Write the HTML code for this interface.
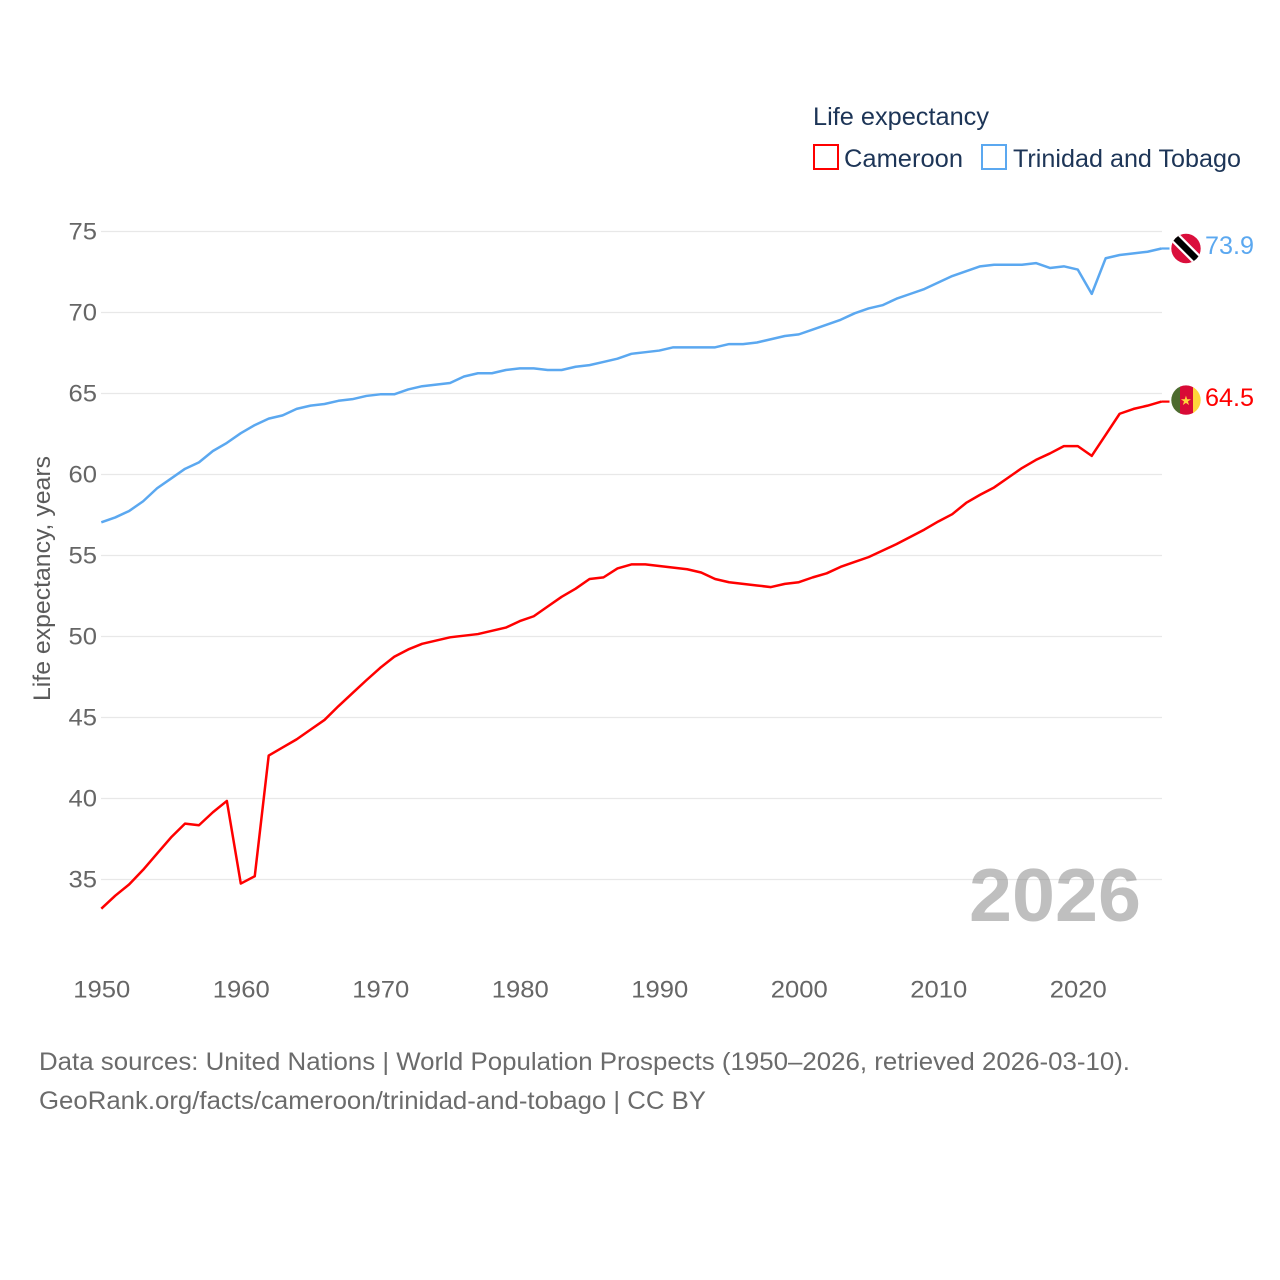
<!DOCTYPE html>
<html>
<head>
<meta charset="utf-8">
<title>Life expectancy</title>
<style>
html,body{margin:0;padding:0;background:#fff}
svg{display:block}
text{font-family:"Liberation Sans",sans-serif}
</style>
</head>
<body>
<svg id="chart" xmlns="http://www.w3.org/2000/svg" width="1280" height="1280" viewBox="0 0 1280 1280">
  <rect width="1280" height="1280" fill="#fff"/>
  <g id="grid"></g>
  <g id="yticks"></g>
  <g id="xticks"></g>
  <text transform="translate(50,701) rotate(-90)" font-size="24" fill="#5b5b5b" textLength="245" lengthAdjust="spacingAndGlyphs">Life expectancy, years</text>
  <text x="813" y="125" font-size="25" fill="#1d3557" textLength="176" lengthAdjust="spacingAndGlyphs">Life expectancy</text>
  <rect x="814" y="145" width="24" height="24" fill="none" stroke="#ff0000" stroke-width="2"/>
  <text x="844" y="167" font-size="25" fill="#1d3557" textLength="119" lengthAdjust="spacingAndGlyphs">Cameroon</text>
  <rect x="982" y="145" width="24" height="24" fill="none" stroke="#5ba8f0" stroke-width="2"/>
  <text x="1013" y="167" font-size="25" fill="#1d3557" textLength="228" lengthAdjust="spacingAndGlyphs">Trinidad and Tobago</text>
  <text x="969" y="921" font-size="75" font-weight="700" fill="#808080" fill-opacity="0.5" textLength="172" lengthAdjust="spacingAndGlyphs">2026</text>
  <g id="series"></g>
  <g id="endflags"></g>
  <text x="39" y="1070" font-size="25" fill="#6b6b6b" textLength="1091" lengthAdjust="spacingAndGlyphs">Data sources: United Nations | World Population Prospects (1950–2026, retrieved 2026-03-10).</text>
  <text x="39" y="1109" font-size="25" fill="#6b6b6b" textLength="667" lengthAdjust="spacingAndGlyphs">GeoRank.org/facts/cameroon/trinidad-and-tobago | CC BY</text>
</svg>
<script>
var startYear = 1950;
var yTickValues = [35, 40, 45, 50, 55, 60, 65, 70, 75];
var xTickValues = [1950, 1960, 1970, 1980, 1990, 2000, 2010, 2020];
var cameroonValues = [33.2,34.0,34.7,35.6,36.6,37.6,38.45,38.35,39.15,39.85,
  34.75,35.2,42.65,43.15,43.65,44.25,44.85,45.7,46.5,47.3,
  48.07,48.75,49.2,49.55,49.75,49.95,50.05,50.15,50.35,50.55,
  50.95,51.25,51.85,52.45,52.95,53.55,53.65,54.2,54.45,54.45,
  54.35,54.25,54.15,53.95,53.55,53.35,53.25,53.15,53.05,53.25,
  53.35,53.65,53.9,54.3,54.6,54.9,55.3,55.7,56.15,56.6,
  57.1,57.55,58.25,58.75,59.2,59.8,60.4,60.9,61.3,61.75,
  61.75,61.15,62.45,63.75,64.05,64.25,64.5];
var trinidadValues = [57.05,57.35,57.75,58.35,59.15,59.75,60.35,60.75,61.45,61.95,
  62.55,63.05,63.45,63.65,64.05,64.25,64.35,64.55,64.65,64.85,
  64.95,64.95,65.25,65.45,65.55,65.65,66.05,66.25,66.25,66.45,
  66.55,66.55,66.45,66.45,66.65,66.75,66.95,67.15,67.45,67.55,
  67.65,67.85,67.85,67.85,67.85,68.05,68.05,68.15,68.35,68.55,
  68.65,68.95,69.25,69.55,69.95,70.25,70.45,70.85,71.15,71.45,
  71.85,72.25,72.55,72.85,72.95,72.95,72.95,73.05,72.75,72.85,
  72.65,71.15,73.35,73.55,73.65,73.75,73.95];
var cameroonLabel = "64.5";
var trinidadLabel = "73.9";

var NS = "http://www.w3.org/2000/svg";
function xScale(year){ return 101.3 + (year - 1950) * 13.95; }
function yScale(v){ return 231.5 + (75 - v) * 16.2; }
function make(tag, attrs, parent, txt){
  var el = document.createElementNS(NS, tag);
  for (var k in attrs) el.setAttribute(k, attrs[k]);
  if (txt !== undefined) el.textContent = txt;
  parent.appendChild(el);
  return el;
}
var grid = document.getElementById("grid");
var yticks = document.getElementById("yticks");
var xticks = document.getElementById("xticks");
var seriesG = document.getElementById("series");
var flags = document.getElementById("endflags");

yTickValues.forEach(function(v){
  var l = make("line", {x1:101, x2:1162, y1:yScale(v), y2:yScale(v), stroke:"#e8e8e8", "stroke-width":1.2}, grid);
  
  
  var t = make("text", {x:97, y:yScale(v)+8, "text-anchor":"end", "font-size":24.5, fill:"#666", textLength:28.5, lengthAdjust:"spacingAndGlyphs"}, yticks, String(v));
  
  
});
xTickValues.forEach(function(v){
  var t = make("text", {x:xScale(v)+0.5, y:997.5, "text-anchor":"middle", "font-size":24.5, fill:"#666", textLength:57, lengthAdjust:"spacingAndGlyphs"}, xticks, String(v));
  
  
});

function linePath(values){
  return values.map(function(v,i){
    return (i ? "L" : "M") + xScale(startYear + i).toFixed(2) + " " + yScale(v).toFixed(2);
  }).join(" ");
}
var cameroonLine = make("path", {d:linePath(cameroonValues), fill:"none", stroke:"#ff0000", "stroke-width":2.5, "stroke-linejoin":"round"}, seriesG);


var trinidadLine = make("path", {d:linePath(trinidadValues), fill:"none", stroke:"#5ba8f0", "stroke-width":2.5, "stroke-linejoin":"round"}, seriesG);



var lastX = xScale(startYear + cameroonValues.length - 1);
var cy = yScale(cameroonValues[cameroonValues.length - 1]);
var ty = yScale(trinidadValues[trinidadValues.length - 1]);

var c1 = make("line", {x1:lastX, x2:lastX+8, y1:cy, y2:cy, stroke:"#ff0000", "stroke-width":2.2}, flags);


var c2 = make("line", {x1:lastX, x2:lastX+8, y1:ty, y2:ty, stroke:"#5ba8f0", "stroke-width":2.2}, flags);



var defs = make("defs", {}, flags);
var cp1 = make("clipPath", {id:"clipT"}, defs);
make("circle", {cx:1186, cy:ty, r:14.7}, cp1);
var cp2 = make("clipPath", {id:"clipC"}, defs);
make("circle", {cx:1186, cy:cy-1.5, r:14.7}, cp2);

var tf = make("g", {"clip-path":"url(#clipT)"}, flags);


make("rect", {x:1170, y:ty-16, width:32, height:32, fill:"#da0f3c"}, tf);
make("line", {x1:1171, y1:ty-15, x2:1201, y2:ty+15, stroke:"#fff", "stroke-width":11}, tf);
make("line", {x1:1171, y1:ty-15, x2:1201, y2:ty+15, stroke:"#000", "stroke-width":6.5}, tf);

var cf = make("g", {"clip-path":"url(#clipC)"}, flags);


make("rect", {x:1171, y:cy-17, width:9.5, height:32, fill:"#4d6b2f"}, cf);
make("rect", {x:1180, y:cy-17, width:13.5, height:32, fill:"#d80a36"}, cf);
make("rect", {x:1193, y:cy-17, width:9, height:32, fill:"#ffd43b"}, cf);
make("text", {x:1186, y:cy+3.2, "text-anchor":"middle", "font-size":13, fill:"#ffd43b"}, cf, "★");

var l1 = make("text", {x:1205, y:ty+5.5, "font-size":25, fill:"#5ba8f0", textLength:49, lengthAdjust:"spacingAndGlyphs"}, flags, trinidadLabel);


var l2 = make("text", {x:1205, y:cy+4.5, "font-size":25, fill:"#ff0000", textLength:49, lengthAdjust:"spacingAndGlyphs"}, flags, cameroonLabel);


</script>
</body>
</html>
